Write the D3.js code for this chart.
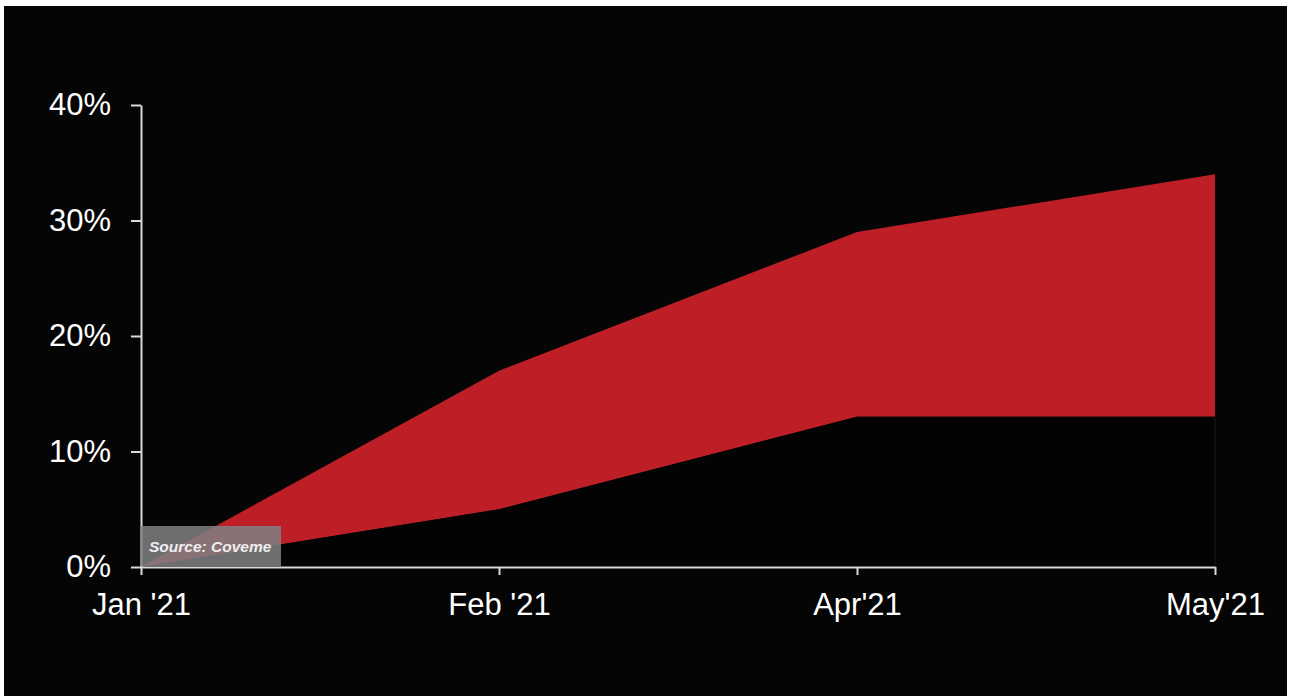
<!DOCTYPE html>
<html><head><meta charset="utf-8">
<script src="https://cdn.jsdelivr.net/npm/d3@7"></script>
<style>html,body{margin:0;padding:0;background:#fff;}svg{display:block;}</style>
</head><body>
<svg id="chart" width="1290" height="696"></svg>
<script>
const categories = ["Jan '21", "Feb '21", "Apr'21", "May'21"];
const lowerValues = [0, 5, 13, 13];
const upperValues = [0, 17, 29, 34];
const yTicks = [0, 10, 20, 30, 40];
const sourceText = "Source: Coveme";

const svg = d3.select("#chart");
svg.append("rect").attr("x", 4).attr("y", 6).attr("width", 1283).attr("height", 690).attr("fill", "#050505");

const x = d3.scalePoint().domain(categories).range([141, 1215]);
const y = d3.scaleLinear().domain([0, 40]).range([567, 105]);

const data = categories.map((c, i) => ({c, lo: lowerValues[i], hi: upperValues[i]}));

svg.append("path").datum(data)
  .attr("d", d3.area().x(d => x(d.c)).y0(d => y(d.lo)).y1(d => y(d.hi)))
  .attr("fill", "#be1f27");

svg.append("path").datum(data)
  .attr("d", d3.area().x(d => x(d.c)).y0(y(0)).y1(d => y(d.lo)))
  .attr("fill", "#030303");

svg.append("line").attr("x1", x(categories[3])).attr("x2", x(categories[3]))
  .attr("y1", y(lowerValues[3])).attr("y2", y(0)).attr("stroke", "#1a1a1a").attr("stroke-width", 1);

const yAxis = svg.append("g").attr("transform", "translate(141,0)")
  .call(d3.axisLeft(y).tickValues(yTicks).tickFormat(d => d + "%").tickSize(10).tickSizeOuter(0).tickPadding(20));
const xAxis = svg.append("g").attr("transform", "translate(0,567)")
  .call(d3.axisBottom(x).tickSize(8).tickSizeOuter(0).tickPadding(18));
[yAxis, xAxis].forEach(g => {
  g.attr("font-size", 31).attr("font-family", "Liberation Sans, Arial, sans-serif");
  g.selectAll("path, line").attr("stroke", "#d9d9d9").attr("stroke-width", 2);
  g.selectAll("text").attr("fill", "#ffffff");
});

svg.append("rect").attr("x", 140).attr("y", 526).attr("width", 141).attr("height", 40)
  .attr("fill", "rgba(128,128,132,0.86)");
svg.append("text").attr("x", 149).attr("y", 552).text(sourceText)
  .attr("fill", "#eeeeee").attr("font-family", "Liberation Sans, Arial, sans-serif")
  .attr("font-size", 15.5).attr("font-weight", "bold").attr("font-style", "italic");
</script>
</body></html>
